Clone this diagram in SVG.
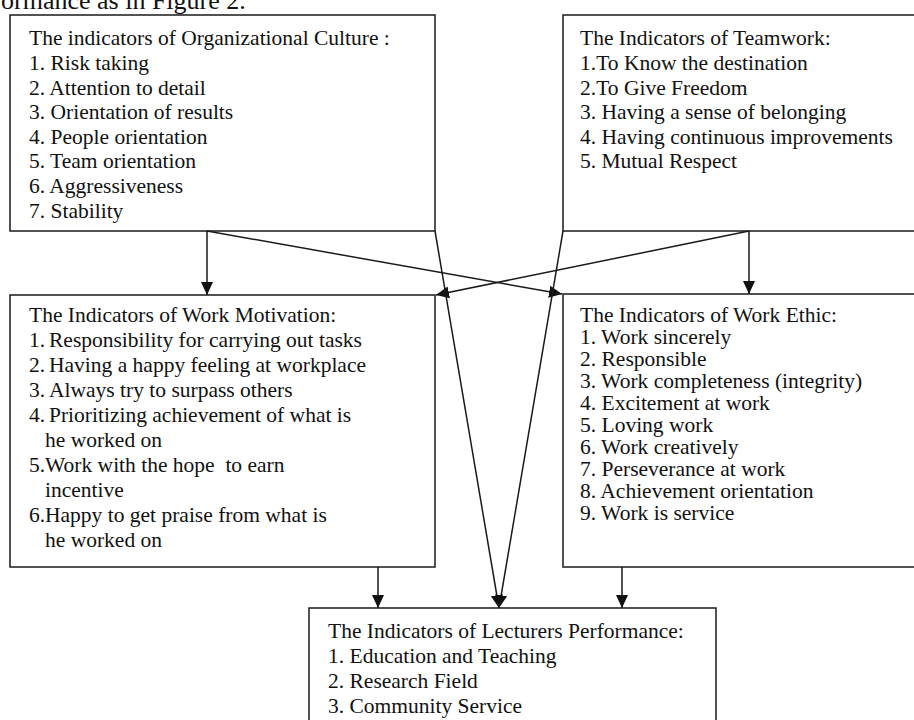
<svg xmlns="http://www.w3.org/2000/svg" width="914" height="720" viewBox="0 0 914 720">
<defs>
<style>
.box{fill:#fff;stroke:#1a1a1a;stroke-width:1.5}
text{font-family:"Liberation Serif","Times New Roman",serif;font-size:21.5px;fill:#111;white-space:pre}
.con line{stroke:#1a1a1a;stroke-width:1.5;marker-end:url(#ah)}
</style>
<marker id="ah" markerUnits="userSpaceOnUse" markerWidth="13" markerHeight="13" viewBox="0 0 13 12" refX="13" refY="6" orient="auto">
<path d="M0,0 L13,6 L0,12 Z" fill="#111"/>
</marker>
</defs>
<rect width="914" height="720" fill="#fff"/>
<text x="1" y="9" style="font-size:26px">ormance as in Figure 2.</text>

<g id="org-culture">
<rect class="box" x="10" y="15" width="425" height="216"/>
<text x="29" y="45">The indicators of Organizational Culture :</text>
<text x="29" y="70">1. Risk taking</text>
<text x="29" y="95">2. Attention to detail</text>
<text x="29" y="119">3. Orientation of results</text>
<text x="29" y="144">4. People orientation</text>
<text x="29" y="168">5. Team orientation</text>
<text x="29" y="193">6. Aggressiveness</text>
<text x="29" y="218">7. Stability</text>
</g>

<g id="teamwork">
<rect class="box" x="563" y="15" width="360" height="216"/>
<text x="580" y="45">The Indicators of Teamwork:</text>
<text x="580" y="70">1.To Know the destination</text>
<text x="580" y="95">2.To Give Freedom</text>
<text x="580" y="119">3. Having a sense of belonging</text>
<text x="580" y="144">4. Having continuous improvements</text>
<text x="580" y="168">5. Mutual Respect</text>
</g>

<g id="work-motivation">
<rect class="box" x="10" y="295" width="425" height="272"/>
<text x="29" y="322">The Indicators of Work Motivation:</text>
<text x="29" y="347">1. <tspan x="49">Responsibility for carrying out tasks</tspan></text>
<text x="29" y="372">2. <tspan x="49">Having a happy feeling at workplace</tspan></text>
<text x="29" y="397">3. <tspan x="49">Always try to surpass others</tspan></text>
<text x="29" y="422">4. <tspan x="49">Prioritizing achievement of what is</tspan></text>
<text x="45" y="447">he worked on</text>
<text x="29" y="472">5.<tspan x="45">Work with the hope  to earn</tspan></text>
<text x="45" y="497">incentive</text>
<text x="29" y="522">6.<tspan x="45">Happy to get praise from what is</tspan></text>
<text x="45" y="547">he worked on</text>
</g>

<g id="work-ethic">
<rect class="box" x="563" y="294" width="360" height="273"/>
<text x="580" y="322">The Indicators of Work Ethic:</text>
<text x="580" y="344">1. Work sincerely</text>
<text x="580" y="366">2. Responsible</text>
<text x="580" y="388">3. Work completeness (integrity)</text>
<text x="580" y="410">4. Excitement at work</text>
<text x="580" y="432">5. Loving work</text>
<text x="580" y="454">6. Work creatively</text>
<text x="580" y="476">7. Perseverance at work</text>
<text x="580" y="498">8. Achievement orientation</text>
<text x="580" y="520">9. Work is service</text>
</g>

<g id="lecturers-performance">
<rect class="box" x="309" y="608" width="407" height="130"/>
<text x="328" y="638">The Indicators of Lecturers Performance:</text>
<text x="328" y="663">1. Education and Teaching</text>
<text x="328" y="688">2. Research Field</text>
<text x="328" y="713">3. Community Service</text>
</g>

<g id="connectors" class="con">
<line x1="207" y1="231" x2="207" y2="295"/>
<line x1="207" y1="231" x2="562" y2="294"/>
<line x1="749" y1="231" x2="749" y2="294"/>
<line x1="749" y1="231" x2="436" y2="295"/>
<line x1="435" y1="231" x2="499" y2="608"/>
<line x1="563" y1="231" x2="499" y2="608"/>
<line x1="378" y1="567" x2="378" y2="608"/>
<line x1="622" y1="567" x2="622" y2="608"/>
</g>
</svg>
